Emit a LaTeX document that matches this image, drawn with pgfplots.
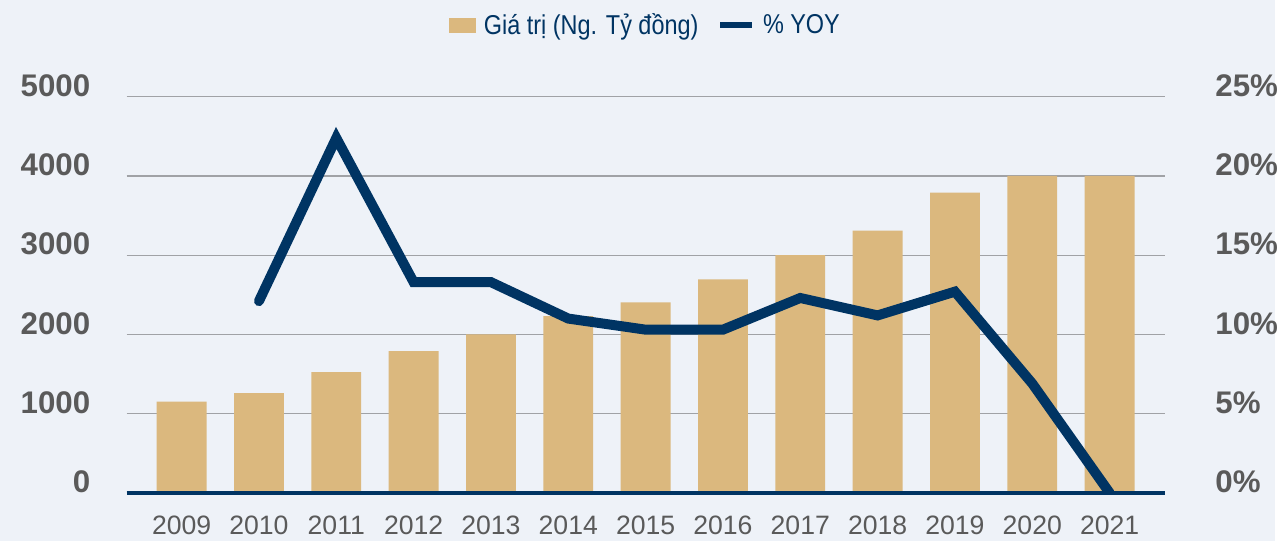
\documentclass[border=0pt]{standalone}
\usepackage{pgfplots}
\pgfplotsset{compat=1.18}
\usepackage{fontspec}
\setmainfont{Liberation Sans}
\newfontfamily\condfont[FakeStretch=0.86]{Liberation Sans}
\definecolor{bg}{HTML}{EEF2F8}
\definecolor{gold}{HTML}{DBB87E}
\definecolor{navy}{HTML}{003463}
\definecolor{lbl}{HTML}{5A5A5A}
\definecolor{gridc}{HTML}{A0A2A6}
\begin{document}
\begin{tikzpicture}[x=1pt,y=1pt]
\fill[bg] (0,0) rectangle (958.5,406.5);
\begin{axis}[
  at={(95.25pt,36pt)}, anchor=south west,
  scale only axis, width=780.75pt, height=297.75pt,
  xmin=-0.71, xmax=12.72, ymin=0, ymax=5000,
  clip=false,
  axis line style={draw=none}, major tick length=0pt,
  ymajorgrids, grid style={gridc, line width=0.8pt},
  ytick={0,1000,2000,3000,4000,5000},
  scaled y ticks=false,
  /pgf/number format/.cd, 1000 sep={}, assume math mode=true, /pgfplots/.cd,
  yticklabel style={font=\fontsize{23.5}{24}\selectfont\bfseries, text=lbl, anchor=east, inner sep=0pt, xshift=-27.2pt, yshift=8.25pt},
  xtick={0,1,2,3,4,5,6,7,8,9,10,11,12},
  xticklabels={2009,2010,2011,2012,2013,2014,2015,2016,2017,2018,2019,2020,2021},
  xticklabel style={font=\fontsize{20}{21}\selectfont, text=lbl, anchor=base, inner sep=0pt, yshift=-31.5pt},
  ybar, bar width=37.5pt,
]
\addplot[fill=gold, draw=none] coordinates {
 (0,1150) (1,1260) (2,1525) (3,1790) (4,2000) (5,2230) (6,2405) (7,2695) (8,3000) (9,3310) (10,3790) (11,4000) (12,4000)};
\draw[navy, line width=3.2pt] (rel axis cs:0,0) -- (rel axis cs:1,0);
\end{axis}
\begin{axis}[
  at={(95.25pt,36pt)}, anchor=south west,
  scale only axis, width=780.75pt, height=297.75pt,
  xmin=-0.71, xmax=12.72, ymin=0, ymax=25,
  axis line style={draw=none}, major tick length=0pt,
  xtick=\empty,
  ytick={0,5,10,15,20,25},
  yticklabel pos=right,
  yticklabel={\pgfmathprintnumber[assume math mode=true]{\tick}\%},
  yticklabel style={font=\fontsize{23.5}{24}\selectfont\bfseries, text=lbl, anchor=west, inner sep=0pt, xshift=37.5pt, yshift=8.25pt},
  legend style={at={(0.5,1)}, anchor=center, yshift=54pt, draw=none, fill=none,
    legend columns=2, font=\condfont\fontsize{20.5}{22}\selectfont, text=navy,
    /tikz/every odd column/.append style={column sep=4pt},
    /tikz/every even column/.append style={column sep=12pt}},
]
\addlegendimage{legend image code/.code={\fill[gold] (0pt,-5.25pt) rectangle (19.5pt,5.25pt);}}
\addlegendentry{Giá trị (Ng. Tỷ đồng)}
\addlegendimage{legend image code/.code={\draw[navy, line width=4.5pt] (0pt,0pt) -- (24pt,0pt);}}
\addlegendentry{\% YOY}
\addplot[navy, line width=7.5pt, line cap=round, line join=miter, mark=none] coordinates {
 (1,12.1) (2,22.4) (3,13.3) (4,13.3) (5,11.0) (6,10.3) (7,10.3) (8,12.3) (9,11.2) (10,12.7) (11,6.9) (12,0)};
\end{axis}
\end{tikzpicture}
\end{document}
